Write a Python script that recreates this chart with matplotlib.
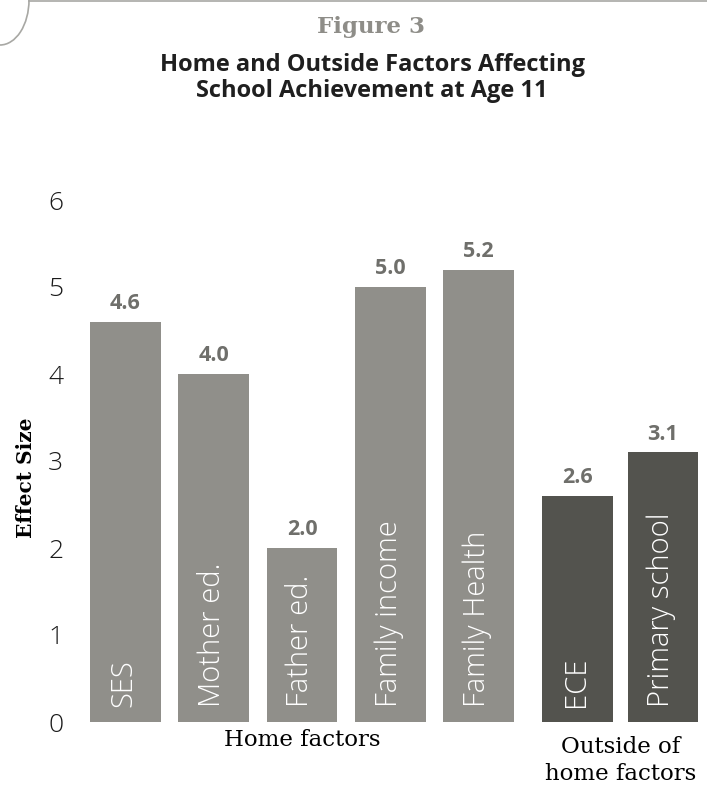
import numpy as np
import matplotlib
matplotlib.use("Agg")
import matplotlib.pyplot as plt
from matplotlib.patches import Arc
from matplotlib.lines import Line2D

# data
home_labels = ["SES", "Mother ed.", "Father ed.", "Family income", "Family Health"]
home_values = [4.6, 4.0, 2.0, 5.0, 5.2]
outside_labels = ["ECE", "Primary school"]
outside_values = [2.6, 3.1]
yticks = [0, 1, 2, 3, 4, 5, 6]

LIGHT = "#908f8a"
DARK = "#53534e"
VAL = "#6f6f6b"
SANS = ["Open Sans", "DejaVu Sans"]
SERIF = ["DejaVu Serif"]

W, H = 707, 787
fig = plt.figure(figsize=(W / 100, H / 100), dpi=100)

# axes placed in pixel terms: y=0 at 722 px, y=6 at 200 px
ax_left, ax_right = 80, 707
ax = fig.add_axes([ax_left / W, (H - 722) / H, (ax_right - ax_left) / W, 522 / H])

step = 88.25                      # px per bar slot
gap = 0.12                        # extra space between the two groups
x_home = np.arange(len(home_values))
x_out = len(home_values) + gap + np.arange(len(outside_values)) * 0.97
ax.bar(x_home, home_values, width=0.8, color=LIGHT, zorder=2)
ax.bar(x_out, outside_values, width=0.8, color=DARK, zorder=2)

ax.set_ylim(0, 6)
x0 = -(125.5 - ax_left) / step
ax.set_xlim(x0, x0 + (ax_right - ax_left) / step)

for xs, vals, labs in [(x_home, home_values, home_labels), (x_out, outside_values, outside_labels)]:
    for x, v, lab in zip(xs, vals, labs):
        ax.annotate(f"{v:.1f}", (x, v), xytext=(0, 13), textcoords="offset points",
                    ha="center", va="center", fontsize=15.5, fontweight="bold",
                    color=VAL, family=SANS)
        ax.annotate(lab, (x, 0), xytext=(-1, 11), textcoords="offset points",
                    ha="center", va="bottom", rotation=90, fontsize=21,
                    fontweight="light", color="white", family=SANS)

ax.set_yticks(yticks)
ax.set_yticklabels([str(t) for t in yticks], fontsize=19, fontweight="light",
                   family=SANS, color="#1a1a1a")
ax.tick_params(axis="y", length=0, pad=12)
ax.set_xticks([])
for s in ax.spines.values():
    s.set_visible(False)

# group captions under the bars
ax.annotate("Home factors", (x_home.mean(), 0), xycoords=("data", "data"),
            xytext=(0, -13), textcoords="offset points", ha="center", va="center",
            fontsize=16.5, family=SERIF, color="black")
ax.annotate("Outside of\nhome factors", (x_out.mean(), 0), xycoords=("data", "data"),
            xytext=(0, -28), textcoords="offset points", ha="center", va="center",
            fontsize=16.5, family=SERIF, color="black", linespacing=1.3)

fig.text(26 / W, 1 - 478 / H, "Effect Size", rotation=90, ha="center", va="center",
         fontsize=14.5, fontweight="bold", family=SERIF, color="black")

# titles
fig.text(371 / W, 1 - 27 / H, "Figure 3", ha="center", va="center",
         fontsize=16.5, fontweight="bold", family=SERIF, color="#8e8d88")
fig.text(372 / W, 1 - 65 / H, "Home and Outside Factors Affecting", ha="center",
         va="center", fontsize=17, fontweight="bold", family=SANS, color="#1f1f1f")
fig.text(372 / W, 1 - 91 / H, "School Achievement at Age 11", ha="center",
         va="center", fontsize=17, fontweight="bold", family=SANS, color="#1f1f1f")

# page frame corner
fig.add_artist(Arc((0, 1), 2 * 29 / W, 2 * 45 / H, theta1=270, theta2=360,
                   transform=fig.transFigure, color="#a8a8a4", lw=1.2))
fig.add_artist(Line2D([29 / W, 1], [1 - 1 / H, 1 - 1 / H], transform=fig.transFigure,
                      color="#a8a8a4", lw=1.2))

fig.savefig("out.png", dpi=100)
